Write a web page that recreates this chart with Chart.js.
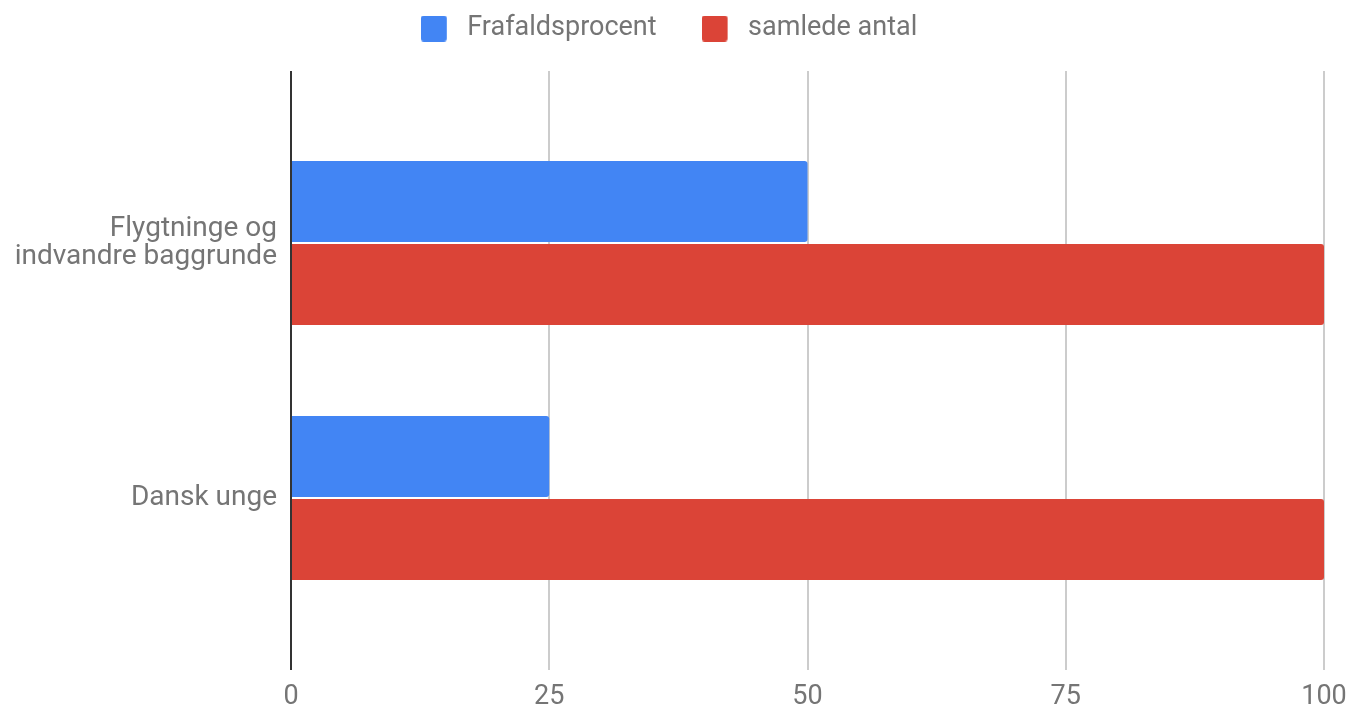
<!DOCTYPE html>
<html><head><meta charset="utf-8">
<script src="https://cdn.jsdelivr.net/npm/chart.js@4.4.0/dist/chart.umd.min.js"></script>
<style>html,body{margin:0;padding:0;background:#fff}#wrap{width:1350px;height:711px}</style>
</head><body><div id="wrap"><canvas id="c" width="1350" height="711"></canvas></div>
<script>
const categories = [['Flygtninge og', 'indvandre baggrunde'], 'Dansk unge'];
const seriesNames = ['Frafaldsprocent', 'samlede antal'];
const frafaldsprocent = [50, 25];
const samledeAntal = [100, 100];
const xTicks = [0, 25, 50, 75, 100];
const seriesColors = ['#4285F4', '#DB4437'];

const TEXT = '#757575';

function swatch(color) {
  const c = document.createElement('canvas');
  c.width = 33; c.height = 26;
  const g = c.getContext('2d');
  g.fillStyle = color;
  g.beginPath();
  if (g.roundRect) g.roundRect(0, 0, 26, 26, 3); else g.rect(0, 0, 26, 26);
  g.fill();
  return c;
}
const swatches = seriesColors.map(swatch);

const legendHeightPlugin = {
  id: 'legendHeight',
  beforeLayout(chart) {
    const lg = chart.legend;
    if (lg && !lg._patched) {
      const orig = lg.fit;
      lg.fit = function () { orig.call(this); this.height = 101; };
      lg._patched = true;
    }
  }
};

new Chart(document.getElementById('c'), {
  type: 'bar',
  data: {
    datasets: [
      {label: seriesNames[0], data: frafaldsprocent.map((v, i) => ({x: v, y: i})), backgroundColor: seriesColors[0]},
      {label: seriesNames[1], data: samledeAntal.map((v, i) => ({x: v, y: i})), backgroundColor: seriesColors[1]}
    ]
  },
  options: {
    responsive: false,
    animation: false,
    indexAxis: 'y',
    layout: {padding: {top: -30, left: 14, right: 26, bottom: 0}},
    datasets: {bar: {categoryPercentage: 0.651, barPercentage: 0.976, borderRadius: 3}},
    plugins: {
      tooltip: {enabled: false},
      legend: {
        position: 'top',
        labels: {
          usePointStyle: true,
          pointStyleWidth: 33,
          boxHeight: 26,
          padding: 45,
          color: TEXT,
          font: {family: 'Roboto', size: 27},
          generateLabels(chart) {
            const items = Chart.defaults.plugins.legend.labels.generateLabels(chart);
            items.forEach((it, i) => { it.pointStyle = swatches[i]; });
            return items;
          }
        }
      }
    },
    scales: {
      x: {
        type: 'linear',
        min: xTicks[0],
        max: xTicks[xTicks.length - 1],
        afterBuildTicks(s) { s.ticks = xTicks.map(v => ({value: v})); },
        afterFit(s) { s.height = 41; s.paddingLeft = 0; s.paddingRight = 0; },
        ticks: {color: TEXT, font: {family: 'Roboto', size: 27, lineHeight: 1}, padding: 14},
        grid: {
          drawTicks: false,
          lineWidth: 2,
          color: c => (c.tick && c.tick.value === 0) ? '#333333' : '#cccccc'
        },
        border: {display: false}
      },
      y: {
        type: 'linear',
        reverse: true,
        offset: false,
        min: -0.6745,
        max: 1.6745,
        afterBuildTicks(s) { s.ticks = categories.map((_, i) => ({value: i})); },
        afterFit(s) { s.width = 277; s.paddingTop = 0; s.paddingBottom = 0; },
        ticks: {
          color: TEXT,
          font: {family: 'Roboto', size: 28, lineHeight: 1},
          padding: 14,
          callback: v => categories[v]
        },
        grid: {display: false, drawTicks: false},
        border: {display: false}
      }
    }
  },
  plugins: [legendHeightPlugin]
});
</script>
</body></html>
